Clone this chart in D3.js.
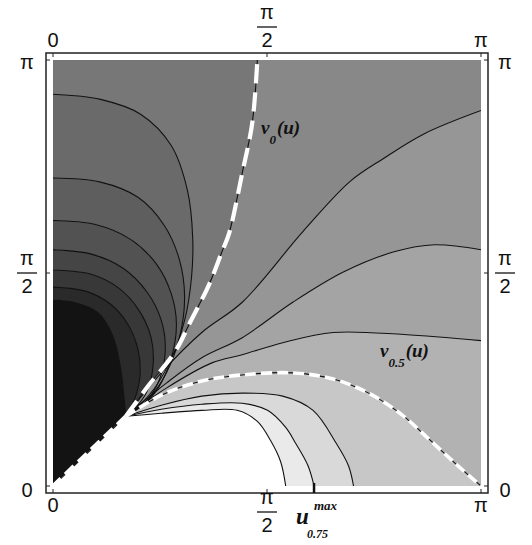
<!DOCTYPE html>
<html><head><meta charset="utf-8">
<script src="https://cdn.jsdelivr.net/npm/d3@7"></script>
<style>body{margin:0;background:#fff}</style>
</head><body>
<svg id="c" width="532" height="545"></svg>
<script>
const PI = Math.PI;
// tick values / labels
const tickValues = [0, PI/2, PI];
const tickLabels = [["0"], ["π","2"], ["π"]];

// contour curves (u, v), each from the common point to the square boundary
const curveD  = [[0.535,0.514],[0,0]];
const curveL7 = [[0.535,0.514],[0.520,0.663],[0.498,0.856],[0.438,1.109],[0.327,1.280],[0.149,1.355],[0,1.370]];
const curveL6 = [[0.535,0.514],[0.602,0.648],[0.639,0.819],[0.624,1.005],[0.550,1.191],[0.423,1.340],[0.238,1.437],[0,1.467]];
const curveL5 = [[0.535,0.514],[0.616,0.588],[0.691,0.700],[0.735,0.893],[0.720,1.094],[0.631,1.295],[0.483,1.459],[0.275,1.563],[0,1.593]];
const curveL4 = [[0.535,0.514],[0.683,0.625],[0.780,0.782],[0.824,0.998],[0.795,1.221],[0.691,1.429],[0.512,1.608],[0.275,1.712],[0,1.742]];
const curveL3 = [[0.535,0.514],[0.661,0.596],[0.772,0.722],[0.869,0.946],[0.906,1.191],[0.869,1.415],[0.758,1.638],[0.572,1.817],[0.312,1.928],[0,1.958]];
const curveL2 = [[0.535,0.514],[0.698,0.640],[0.832,0.834],[0.928,1.094],[0.966,1.392],[0.928,1.668],[0.817,1.921],[0.624,2.129],[0.349,2.241],[0,2.271]];
const curveL1 = [[0.535,0.514],[0.706,0.670],[0.854,0.908],[0.966,1.221],[1.017,1.541],[1.025,1.839],[0.988,2.174],[0.869,2.509],[0.646,2.740],[0.349,2.851],[0,2.889]];
const curveV0 = [[0.535,0.514],[0.698,0.737],[0.891,0.983],[1.017,1.228],[1.144,1.482],[1.240,1.727],[1.292,1.861],[1.389,2.308],[1.463,2.680],[1.500,PI]];
const curveR1 = [[0.535,0.514],[0.795,0.834],[1.092,1.132],[1.389,1.355],[1.834,1.876],[2.183,2.248],[2.421,2.412],[2.726,2.598],[PI,2.769]];
const curveR2 = [[0.535,0.514],[0.832,0.759],[1.092,0.946],[1.389,1.094],[1.760,1.355],[2.131,1.578],[2.503,1.727],[2.800,1.779],[PI,1.742]];
const curveR3 = [[0.535,0.514],[0.832,0.722],[1.166,0.908],[1.389,0.968],[1.686,1.057],[2.057,1.132],[2.577,1.117],[PI,1.072]];
const curveV05 = [[0.535,0.514],[0.795,0.670],[1.092,0.774],[1.389,0.819],[1.760,0.834],[2.057,0.789],[2.317,0.685],[2.555,0.530],[2.760,0.345],[2.960,0.160],[PI,0]];
const curveB1 = [[0.535,0.514],[0.795,0.596],[1.092,0.663],[1.389,0.685],[1.686,0.663],[1.909,0.558],[2.080,0.313],[2.169,0.149],[2.206,0]];
const curveB2 = [[0.535,0.514],[0.795,0.566],[1.092,0.603],[1.389,0.610],[1.575,0.558],[1.708,0.432],[1.782,0.313],[1.872,0.149],[1.916,0]];
const curveB3 = [[0.535,0.514],[0.795,0.536],[1.092,0.558],[1.352,0.558],[1.500,0.476],[1.597,0.335],[1.671,0.179],[1.708,0]];

const bands  = [curveD, curveL7, curveL6, curveL5, curveL4, curveL3, curveL2, curveL1, curveV0, curveR1, curveR2, curveR3, curveV05, curveB1, curveB2, curveB3, curveD];
const shades = ["#131313","#2a2a2a","#383838","#454545","#525252","#5e5e5e","#6a6a6a","#777777","#888888","#969696","#a4a4a4","#b2b2b2","#c7c7c7","#d9d9d9","#eaeaea","#ffffff"];

const svg = d3.select("#c");
const x = d3.scaleLinear().domain([0, PI]).range([53, 481]);
const y = d3.scaleLinear().domain([0, PI]).range([486, 60]);

const line = d3.line().x(d => x(d[0])).y(d => y(d[1])).curve(d3.curveCatmullRom.alpha(0.5));

function perim(p, isEnd) {
  const e = 1e-6, [u, v] = p;
  if (u < e && v < e) return isEnd ? 4*PI : 0;
  if (u < e) return v;
  if (v > PI - e) return PI + u;
  if (u > PI - e) return 2*PI + (PI - v);
  return 3*PI + (PI - u);
}
const corners = [[PI,[0,PI]],[2*PI,[PI,PI]],[3*PI,[PI,0]],[4*PI,[0,0]]];

const defs = svg.append("defs");
defs.append("clipPath").attr("id","pc").append("rect")
  .attr("x", x(0)).attr("y", y(PI)).attr("width", x(PI)-x(0)).attr("height", y(0)-y(PI));

const g = svg.append("g").attr("clip-path","url(#pc)");

for (let i = 0; i < shades.length; i++) {
  const A = bands[i], B = bands[i+1];
  const tA = perim(A[A.length-1], false), tB = perim(B[B.length-1], true);
  let d = line(A);
  corners.forEach(([t, c]) => { if (t > tA + 1e-6 && t < tB - 1e-6) d += "L" + x(c[0]) + "," + y(c[1]); });
  const Bend = B[B.length-1];
  d += "L" + x(Bend[0]) + "," + y(Bend[1]);
  d += line(B.slice().reverse()).replace(/^M/, "L") + "Z";
  g.append("path").attr("d", d).attr("fill", shades[i]).attr("stroke", shades[i]).attr("stroke-width", 0.6);
}

// contour lines
const lineCurves = [curveD, curveL7, curveL6, curveL5, curveL4, curveL3, curveL2, curveL1, curveV0, curveR1, curveR2, curveR3, curveV05, curveB1, curveB2, curveB3];
lineCurves.forEach(c => g.append("path").attr("d", line(c)).attr("fill","none").attr("stroke","#111").attr("stroke-width",1.1));

// dashed overlays
g.append("path").attr("d", line(curveV0)).attr("fill","none").attr("stroke","#fff")
  .attr("stroke-width",4.2).attr("stroke-dasharray","19,9");
g.append("path").attr("d", line(curveD)).attr("fill","none").attr("stroke","#fff")
  .attr("stroke-width",4).attr("stroke-dasharray","12,6");
g.append("path").attr("d", line(curveV05)).attr("fill","none").attr("stroke","#fff")
  .attr("stroke-width",3.6).attr("stroke-dasharray","11,5");

// frame
const f0 = 7;
svg.append("rect").attr("x", x(0)-f0).attr("y", y(PI)-f0)
  .attr("width", x(PI)-x(0)+2*f0).attr("height", y(0)-y(PI)+2*f0)
  .attr("fill","none").attr("stroke","#222").attr("stroke-width",1.5);

// ticks on the frame
const tl = 4;
tickValues.forEach(t => {
  svg.append("line").attr("x1",x(t)).attr("x2",x(t)).attr("y1",y(PI)-f0).attr("y2",y(PI)-f0+tl).attr("stroke","#222");
  svg.append("line").attr("x1",x(t)).attr("x2",x(t)).attr("y1",y(0)+f0).attr("y2",y(0)+f0-tl).attr("stroke","#222");
  svg.append("line").attr("y1",y(t)).attr("y2",y(t)).attr("x1",x(0)-f0).attr("x2",x(0)-f0+tl).attr("stroke","#222");
  svg.append("line").attr("y1",y(t)).attr("y2",y(t)).attr("x1",x(PI)+f0).attr("x2",x(PI)+f0-tl).attr("stroke","#222");
});

// tick labels
const font = "'Liberation Sans', Arial, sans-serif";
function label(cx, cy, parts) {
  const t = svg.append("g").attr("font-family", font).attr("font-size", 20).attr("fill","#111").attr("text-anchor","middle");
  if (parts.length === 1) {
    t.append("text").attr("x", cx).attr("y", cy + 7).text(parts[0]);
  } else {
    t.append("text").attr("x", cx).attr("y", cy - 8).text(parts[0]);
    t.append("line").attr("x1", cx-10).attr("x2", cx+10).attr("y1", cy).attr("y2", cy).attr("stroke","#111").attr("stroke-width",1.3);
    t.append("text").attr("x", cx).attr("y", cy + 20).text(parts[1]);
  }
}
tickValues.forEach((t, i) => {
  const p = tickLabels[i];
  label(x(t), p.length > 1 ? 27 : 40, p);
  label(x(t), p.length > 1 ? 512 : 505, p);
  label(27, p.length > 1 ? y(t) : (t === 0 ? 490 : 62), p);
  label(505, p.length > 1 ? y(t) : (t === 0 ? 490 : 62), p);
});

// curve labels
const serif = "'Liberation Serif', 'Times New Roman', serif";
const lab = svg.append("g").attr("font-family", serif).attr("font-weight","bold").attr("font-style","italic").attr("fill","#111");
function vlab(xp, yp, sub) {
  const t = lab.append("text").attr("x", xp).attr("y", yp).attr("font-size", 19);
  t.append("tspan").text("v");
  t.append("tspan").attr("font-size", 13).attr("dy", 10).text(sub);
  t.append("tspan").attr("dy", -10).attr("dx", 1).text("(u)");
}
vlab(261, 134, "0");
vlab(380, 357, "0.5");
lab.append("text").attr("x", 296).attr("y", 524).attr("font-size", 23).text("u");
lab.append("text").attr("x", 314).attr("y", 510).attr("font-size", 13).text("max");
lab.append("text").attr("x", 307).attr("y", 538).attr("font-size", 12).text("0.75");
// marker of u_max
svg.append("line").attr("x1", x(curveB2[curveB2.length-1][0])).attr("x2", x(curveB2[curveB2.length-1][0]))
  .attr("y1", y(0)-3).attr("y2", y(0)+f0).attr("stroke","#111").attr("stroke-width",2.5);
</script>
</body></html>
